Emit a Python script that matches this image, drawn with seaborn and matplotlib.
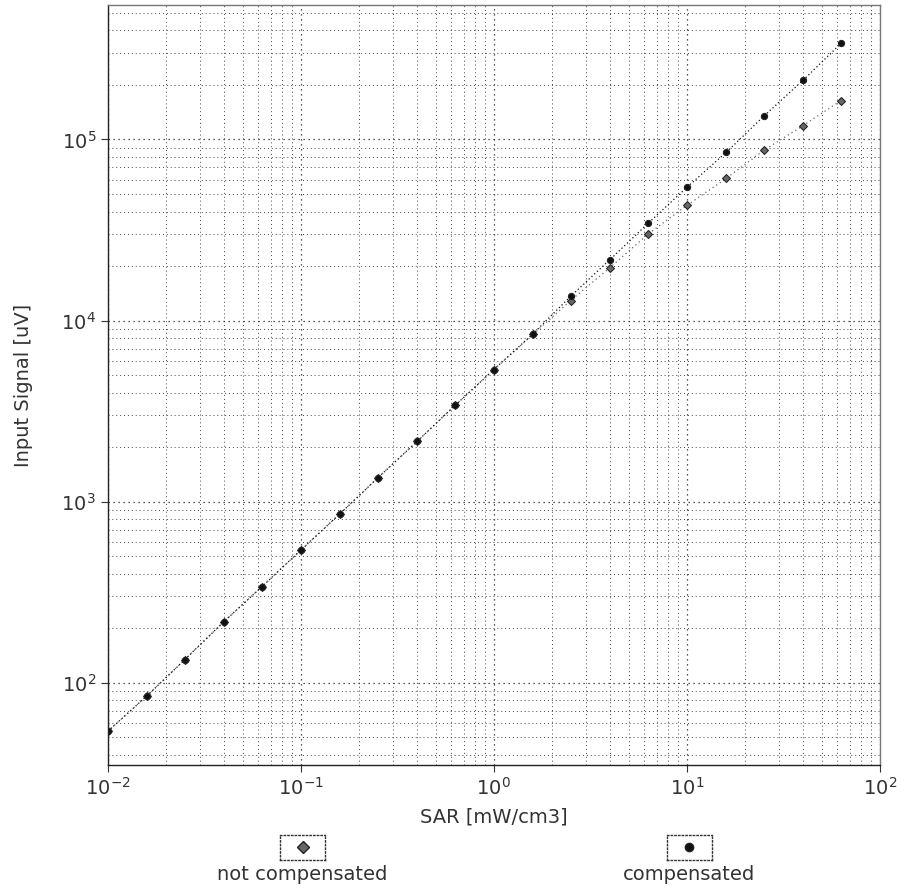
import numpy as np
import pandas as pd
import matplotlib
matplotlib.use("Agg")
import matplotlib.pyplot as plt
from matplotlib.ticker import LogLocator, NullFormatter
import seaborn as sns

# SAR values (mW/cm3), 0.2 decade steps
sar = [0.01, 0.016, 0.025, 0.04, 0.063, 0.1, 0.16, 0.25, 0.4, 0.63,
       1.0, 1.6, 2.5, 4.0, 6.3, 10, 16, 25, 40, 63]

# input signal (uV)
not_compensated = [54, 85, 134, 218, 340, 540, 860, 1350, 2150, 3400,
                   5360, 8400, 12900, 19600, 30000, 43200, 60900, 86900, 119000, 164000]
compensated = [54, 85, 134, 218, 340, 540, 860, 1350, 2150, 3400,
               5360, 8470, 13600, 21700, 34400, 54300, 84800, 134000, 212000, 339000]

series_names = ["not compensated", "compensated"]

df = pd.concat([
    pd.DataFrame({"SAR": sar, "signal": not_compensated, "series": series_names[0]}),
    pd.DataFrame({"SAR": sar, "signal": compensated, "series": series_names[1]}),
])

sns.set_style("white")
plt.rcParams["font.family"] = ["DejaVu Sans"]

fig = plt.figure(figsize=(9.06, 8.9), dpi=100)
ax = fig.add_axes([0.119, 0.140, 0.852, 0.854])

palette = {"not compensated": "#666666", "compensated": "#111111"}
markers = {"not compensated": "D", "compensated": "o"}
dashes = {"not compensated": (1, 2.5), "compensated": (1, 2)}

sns.lineplot(data=df, x="SAR", y="signal", hue="series", style="series",
             palette=palette, markers=markers, dashes=dashes,
             markersize=4.5, linewidth=0.9, markeredgecolor="#222222",
             legend=False, ax=ax, sort=False)

ax.set_xscale("log")
ax.set_yscale("log")
ax.set_xlim(0.01, 100)
ax.set_ylim(35, 5.5e5)

for axis in (ax.xaxis, ax.yaxis):
    axis.set_major_locator(LogLocator(base=10))
    axis.set_minor_locator(LogLocator(base=10, subs=np.arange(2, 10)))
    axis.set_minor_formatter(NullFormatter())

ax.grid(which="major", linestyle=(0, (1, 3)), color="#222222", linewidth=0.9)
ax.grid(which="minor", linestyle=(0, (1, 3)), color="#444444", linewidth=0.7)
ax.tick_params(which="major", direction="out", length=5, color="#333333",
               labelsize=14, labelcolor="#333333", bottom=True, left=True)
ax.tick_params(which="minor", length=0)

for side in ["left", "bottom"]:
    ax.spines[side].set_color("#222222")
    ax.spines[side].set_linewidth(1.0)
for side in ["top", "right"]:
    ax.spines[side].set_color("#777777")
    ax.spines[side].set_linewidth(1.0)

ax.set_xlabel("SAR [mW/cm3]", fontsize=14, color="#333333", labelpad=6)
ax.set_ylabel("Input Signal [uV]", fontsize=14, color="#333333", labelpad=20)

# legend below: boxed marker with the label underneath
for name, cx in zip(series_names, [0.334, 0.761]):
    lax = fig.add_axes([cx - 0.025, 0.034, 0.05, 0.028])
    lax.plot([0.5], [0.5], marker=markers[name], color=palette[name],
             markersize=6, markeredgecolor="#222222", linestyle="none")
    lax.set_xlim(0, 1)
    lax.set_ylim(0, 1)
    lax.set_xticks([])
    lax.set_yticks([])
    for s in lax.spines.values():
        s.set_linestyle(":")
        s.set_color("#333333")
        s.set_linewidth(1.0)
    fig.text(cx, 0.017, name, ha="center", va="center", fontsize=14, color="#333333")

fig.savefig("out.png", dpi=100)
